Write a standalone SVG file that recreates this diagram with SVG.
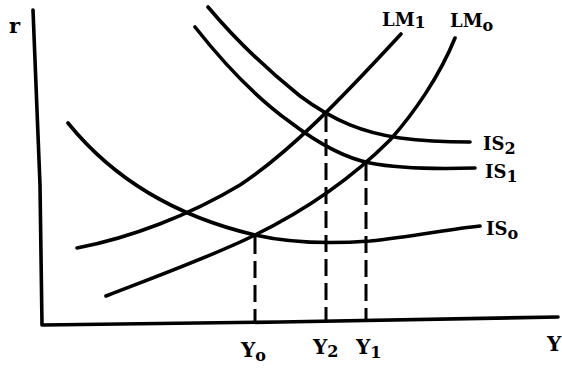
<svg xmlns="http://www.w3.org/2000/svg" width="562" height="370" viewBox="0 0 562 370">
<style>
.c{fill:none;stroke:#000;stroke-width:3.6;stroke-linecap:round;stroke-linejoin:round}
.d{fill:none;stroke:#000;stroke-width:3;stroke-dasharray:17 7}
text{font-family:"DejaVu Serif","Liberation Serif",serif;font-weight:bold;fill:#000}
.l{font-size:18px}
.s{font-size:16px}
.b{font-size:20px}
</style>
<rect width="562" height="370" fill="#fff"/>
<g id="axes">
<polyline class="c" points="33,10 40,185 42,325 280,322 558,317"/>
<text x="9" y="33" font-size="21">r</text>
<text class="b" x="547" y="351">Y</text>
</g>
<g id="IS0">
<path class="c" d="M68,123 C110,175 170,215 255,235 C290,243 330,244 370,241 C410,237 450,229 480,226"/>
<text class="l" x="486" y="235">IS<tspan class="s" dy="4">o</tspan></text>
</g>
<g id="IS1">
<path class="c" d="M195,27 C225,65 255,97 290,122 C320,145 345,158 370,163 C400,169 440,169 475,168"/>
<text class="l" x="485" y="178">IS<tspan class="s" dy="4">1</tspan></text>
</g>
<g id="IS2">
<path class="c" d="M208,7 C240,45 270,72 300,96 C335,122 365,133 400,138 C430,142 450,142 470,142"/>
<text class="l" x="483" y="150">IS<tspan class="s" dy="4">2</tspan></text>
</g>
<g id="LM1">
<path class="c" d="M77,248 C130,238 190,215 240,185 C290,152 340,100 401,34"/>
<text class="l" x="382" y="26">LM<tspan class="s" dy="2">1</tspan></text>
</g>
<g id="LM0">
<path class="c" d="M106,296 C160,275 215,255 255,235 C310,208 355,175 390,140 C415,112 440,75 455,38"/>
<text class="l" x="450" y="27">LM<tspan class="s" dy="4">o</tspan></text>
</g>
<g id="connectors">
<line class="d" x1="255" y1="237" x2="255" y2="322"/>
<line class="d" x1="326" y1="115" x2="326" y2="321"/>
<line class="d" x1="366" y1="164" x2="366" y2="320"/>
</g>
<g id="labels">
<text class="b" x="241" y="357">Y<tspan class="s" dy="4">o</tspan></text>
<text class="b" x="313" y="354">Y<tspan class="s" dy="3">2</tspan></text>
<text class="b" x="356" y="354">Y<tspan class="s" dy="4">1</tspan></text>
</g>
</svg>
